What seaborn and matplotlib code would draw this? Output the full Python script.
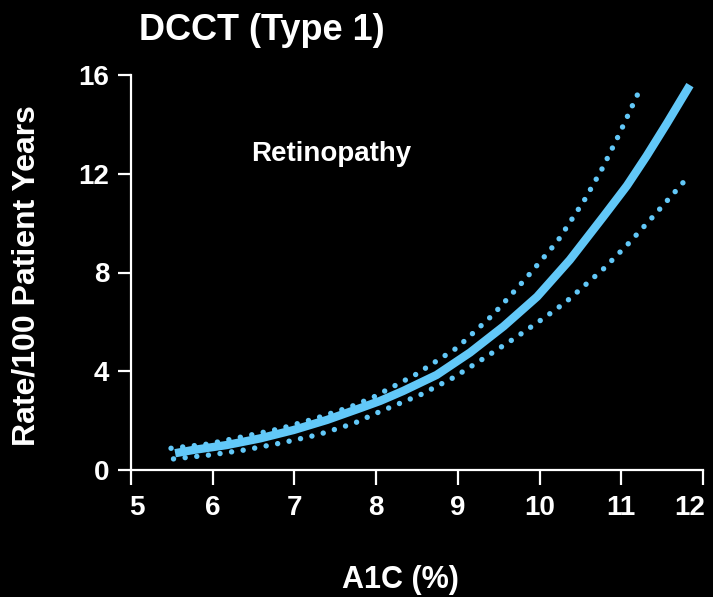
import matplotlib
matplotlib.use("Agg")
import matplotlib.pyplot as plt
import matplotlib.transforms as mtransforms
import seaborn as sns
import pandas as pd

# Data
a1c_mid = [5.54, 5.76, 6.17, 6.58, 6.99, 7.40, 7.80, 8.05, 8.33, 8.74, 9.15, 9.56,
           9.97, 10.37, 10.78, 11.07, 11.31, 11.56, 11.84]
rate_mid = [0.68, 0.81, 1.01, 1.28, 1.62, 2.03, 2.50, 2.80, 3.20, 3.85, 4.76, 5.82,
            7.02, 8.51, 10.26, 11.52, 12.72, 14.05, 15.59]

a1c_upper = [5.49, 5.94, 6.37, 6.82, 7.25, 7.68, 7.96, 8.48, 8.99, 9.43, 9.83, 10.22,
             10.55, 10.77, 10.97, 11.22]
rate_upper = [0.88, 1.05, 1.35, 1.67, 2.08, 2.55, 2.94, 3.86, 4.95, 6.29, 7.75, 9.27,
              10.94, 12.23, 13.57, 15.36]

a1c_lower = [5.52, 5.97, 6.41, 6.86, 7.29, 7.73, 8.00, 8.55, 8.95, 9.33, 9.71, 10.08,
             10.32, 10.78, 11.09, 11.39, 11.69, 11.79]
rate_lower = [0.45, 0.61, 0.82, 1.11, 1.43, 1.89, 2.30, 3.06, 3.75, 4.55, 5.37, 6.22,
              6.80, 8.14, 9.18, 10.27, 11.39, 11.77]

x_ticks = [5, 6, 7, 8, 9, 10, 11, 12]
y_ticks = [0, 4, 8, 12, 16]

title = "DCCT (Type 1)"
annotation = "Retinopathy"
x_label = "A1C (%)"
y_label = "Rate/100 Patient Years"

sns.set_style("white")
plt.rcParams["font.family"] = ["Liberation Sans", "DejaVu Sans"]
plt.rcParams["font.weight"] = "bold"

BLUE = "#62C8F8"
WHITE = "white"

fig = plt.figure(figsize=(7.13, 5.97), dpi=100, facecolor="black")
ax = fig.add_axes([131 / 713, 1 - 470 / 597, (703 - 131) / 713, (470 - 75) / 597])
ax.set_facecolor("black")

df_mid = pd.DataFrame({"x": a1c_mid, "y": rate_mid})
df_up = pd.DataFrame({"x": a1c_upper, "y": rate_upper})
df_lo = pd.DataFrame({"x": a1c_lower, "y": rate_lower})

for d in (df_up, df_lo):
    sns.lineplot(data=d, x="x", y="y", ax=ax, color=BLUE, linewidth=3.9,
                 sort=False, estimator=None)
for line in ax.lines:
    line.set_dashes((0.01, 2.15))
    line.set_dash_capstyle("round")
    line.set_solid_joinstyle("round")
sns.lineplot(data=df_mid, x="x", y="y", ax=ax, color=BLUE, linewidth=6.0,
             sort=False, estimator=None)
ax.lines[-1].set_solid_capstyle("butt")
ax.lines[-1].set_solid_joinstyle("round")

ax.set_xlim(5, 12)
ax.set_ylim(0, 16)
ax.set_xticks(x_ticks)
ax.set_yticks(y_ticks)
ax.set_xticklabels([str(t) for t in x_ticks])
ax.set_yticklabels([str(t) for t in y_ticks])

for s in ("top", "right"):
    ax.spines[s].set_visible(False)
for s in ("left", "bottom"):
    ax.spines[s].set_color(WHITE)
    ax.spines[s].set_linewidth(1.6)

ax.tick_params(axis="y", colors=WHITE, direction="out", length=9.5, width=1.6,
               labelsize=20, pad=6, left=True)
ax.tick_params(axis="x", colors=WHITE, direction="out", length=11, width=1.6,
               labelsize=20, pad=7, bottom=True)
for lab in ax.get_xticklabels() + ax.get_yticklabels():
    lab.set_fontweight("bold")
    lab.set_color(WHITE)

xl = ax.get_xticklabels()
xl[0].set_transform(xl[0].get_transform() + mtransforms.ScaledTranslation(6 / 100, 0, fig.dpi_scale_trans))
xl[-1].set_transform(xl[-1].get_transform() + mtransforms.ScaledTranslation(-13 / 100, 0, fig.dpi_scale_trans))

ax.set_xlabel("")
ax.set_ylabel("")
fig.text(400 / 713, 1 - 580 / 597, x_label, color=WHITE, fontsize=22,
         fontweight="bold", ha="center", va="center")
fig.text(27 / 713, 1 - 276 / 597, y_label, color=WHITE, fontsize=23,
         fontweight="bold", ha="center", va="center", rotation=90)
fig.text(262 / 713, 1 - 39.5 / 597, title, color=WHITE, fontsize=26,
         fontweight="bold", ha="center", va="baseline")
ax.text(7.45, 12.53, annotation, color=WHITE, fontsize=20, fontweight="bold",
        ha="center", va="baseline")

fig.savefig("out.png", dpi=100, facecolor="black")
